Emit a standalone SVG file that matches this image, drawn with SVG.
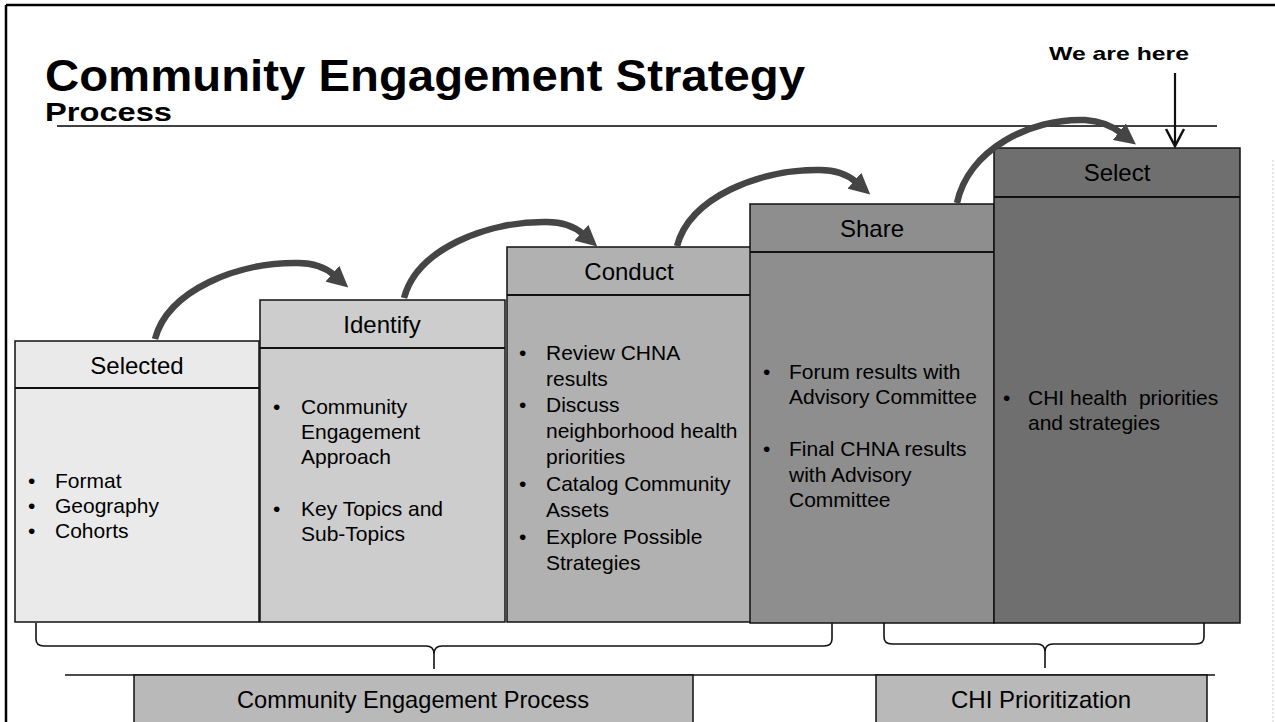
<svg xmlns="http://www.w3.org/2000/svg" width="1275" height="722" viewBox="0 0 1275 722">
<style>
.t{font-family:"Liberation Sans",Arial,sans-serif;fill:#000}
.b{font-size:21px}
.h{font-size:24px;text-anchor:middle}
.box{stroke:#111;stroke-width:1.5}
.div{stroke:#111;stroke-width:2}
.curve{fill:none;stroke:#454545;stroke-width:6.5;stroke-linecap:butt}
.brace{fill:none;stroke:#111;stroke-width:1.6}
</style>
<defs>
<marker id="ah" viewBox="0 0 10 10" refX="1" refY="5" markerWidth="21" markerHeight="21" markerUnits="userSpaceOnUse" orient="auto">
<path d="M0,0 L10,5 L0,10 z" fill="#454545"/>
</marker>
</defs>
<rect width="1275" height="722" fill="#fff"/>
<line x1="6" y1="5" x2="1275" y2="5" stroke="#000" stroke-width="2.5"/>
<line x1="6" y1="5" x2="6" y2="722" stroke="#000" stroke-width="2.5"/>
<line x1="1273" y1="160" x2="1273" y2="722" stroke="#ccc" stroke-width="1" stroke-dasharray="2 2"/>

<g id="title">
<text class="t" x="45" y="91" font-size="44" font-weight="bold" textLength="760" lengthAdjust="spacingAndGlyphs">Community Engagement Strategy</text>
<text class="t" x="45" y="121" font-size="25" font-weight="bold" textLength="127" lengthAdjust="spacingAndGlyphs">Process</text>
<line x1="57" y1="126" x2="1217" y2="126" stroke="#000" stroke-width="1.3"/>
</g>

<g id="we-are-here">
<text class="t" x="1049" y="60" font-size="19" font-weight="bold" textLength="140" lengthAdjust="spacingAndGlyphs">We are here</text>
</g>

<g id="selected">
<rect class="box" x="15" y="341" width="244" height="281" fill="#eaeaea"/>
<line class="div" x1="15" y1="388" x2="259" y2="388"/>
<text class="t h" x="137" y="374">Selected</text>
<g class="t b">
<text x="28" y="488">•</text><text x="55" y="488">Format</text>
<text x="28" y="513">•</text><text x="55" y="513">Geography</text>
<text x="28" y="538">•</text><text x="55" y="538">Cohorts</text>
</g>
</g>

<g id="identify">
<rect class="box" x="260" y="300" width="245" height="322" fill="#cdcdcd"/>
<line class="div" x1="260" y1="348" x2="505" y2="348"/>
<text class="t h" x="382" y="333">Identify</text>
<g class="t b">
<text x="273" y="414">•</text><text x="301" y="414">Community</text>
<text x="301" y="439">Engagement</text>
<text x="301" y="464">Approach</text>
<text x="273" y="516">•</text><text x="301" y="516">Key Topics and</text>
<text x="301" y="541">Sub-Topics</text>
</g>
</g>

<g id="conduct">
<rect class="box" x="507" y="247" width="244" height="375" fill="#b1b1b1"/>
<line class="div" x1="507" y1="295" x2="751" y2="295"/>
<text class="t h" x="629" y="280">Conduct</text>
<g class="t b">
<text x="519" y="360">•</text><text x="546" y="360">Review CHNA</text>
<text x="546" y="386">results</text>
<text x="519" y="412">•</text><text x="546" y="412">Discuss</text>
<text x="546" y="438">neighborhood health</text>
<text x="546" y="464">priorities</text>
<text x="519" y="491">•</text><text x="546" y="491">Catalog Community</text>
<text x="546" y="517">Assets</text>
<text x="519" y="544">•</text><text x="546" y="544">Explore Possible</text>
<text x="546" y="570">Strategies</text>
</g>
</g>

<g id="share">
<rect class="box" x="750" y="204" width="244" height="419" fill="#8e8e8e"/>
<line class="div" x1="750" y1="252" x2="994" y2="252"/>
<text class="t h" x="872" y="237">Share</text>
<g class="t b">
<text x="763" y="379">•</text><text x="789" y="379">Forum results with</text>
<text x="789" y="404">Advisory Committee</text>
<text x="763" y="456">•</text><text x="789" y="456">Final CHNA results</text>
<text x="789" y="482">with Advisory</text>
<text x="789" y="507">Committee</text>
</g>
</g>

<g id="select">
<rect class="box" x="994" y="148" width="246" height="475" fill="#6f6f6f"/>
<line class="div" x1="994" y1="197" x2="1240" y2="197"/>
<text class="t h" x="1117" y="181">Select</text>
<g class="t b">
<text x="1003" y="405">•</text><text x="1028" y="405" style="white-space:pre">CHI health  priorities</text>
<text x="1028" y="430">and strategies</text>
</g>
</g>

<g id="connectors">
<path class="curve" d="M155,339 C168,290 238,262 298,263 C314,263 326,268 334,275" marker-end="url(#ah)"/>
<path class="curve" d="M404,298 C417,249 487,221 547,222 C563,222 575,227 583,234" marker-end="url(#ah)"/>
<path class="curve" d="M677,246 C690,197 760,169 820,170 C836,170 848,175 856,182" marker-end="url(#ah)"/>
<path class="curve" d="M957,203 C968,150 1030,118 1085,120 C1100,121 1112,126 1121,133" marker-end="url(#ah)"/>
<line x1="1175" y1="73" x2="1175" y2="146" stroke="#111" stroke-width="2.2"/>
<path d="M1166,129 L1175,146 L1184,129" fill="none" stroke="#111" stroke-width="2.5"/>
<path class="brace" d="M36,623 L36,639 Q36,646 44,646 L426,646 Q434,646 434,654 L434,669 M434,654 Q434,646 442,646 L824,646 Q832,646 832,639 L832,623"/>
<path class="brace" d="M884,623 L884,637 Q884,644 892,644 L1037,644 Q1045,644 1045,652 L1045,668 M1045,652 Q1045,644 1053,644 L1196,644 Q1204,644 1204,637 L1204,623"/>
</g>

<g id="bottom-bar">
<line x1="65" y1="675" x2="1215" y2="675" stroke="#111" stroke-width="1.6"/>
</g>

<g id="community-engagement-process">
<rect class="box" x="134" y="675" width="559" height="50" fill="#b9b9b9"/>
<text class="t h" x="413" y="708" font-size="22" textLength="352" lengthAdjust="spacingAndGlyphs">Community Engagement Process</text>
</g>

<g id="chi-prioritization">
<rect class="box" x="876" y="675" width="331" height="50" fill="#b9b9b9"/>
<text class="t h" x="1041" y="708" font-size="22">CHI Prioritization</text>
</g>
</svg>
